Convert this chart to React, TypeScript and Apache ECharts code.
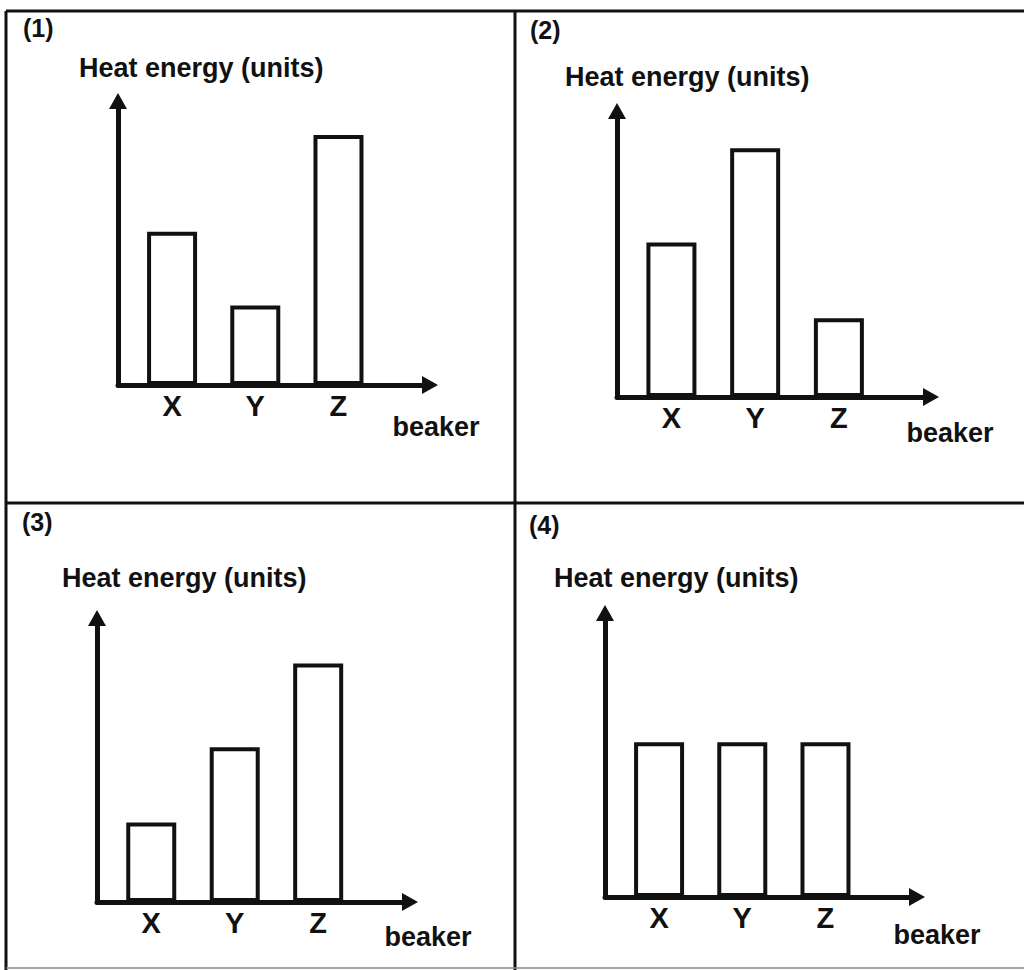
import React, { useEffect, useRef } from "react";
import * as echarts from "echarts";

const beakers = ["X", "Y", "Z"];
const panelLabels = ["(1)", "(2)", "(3)", "(4)"];
const yTitle = "Heat energy (units)";
const xTitle = "beaker";
const heat1 = [5.4, 2.8, 8.8];
const heat2 = [5.4, 8.7, 2.75];
const heat3 = [2.8, 5.45, 8.4];
const heat4 = [5.45, 5.45, 5.45];
const allHeat = [heat1, heat2, heat3, heat4];

const grids = [
  { left: 118, top: 101, width: 312, height: 284 },
  { left: 617, top: 111, width: 314, height: 286 },
  { left: 97, top: 618, width: 313, height: 284 },
  { left: 605, top: 613, width: 312, height: 284 },
];
const titlePos = [
  [79, 68],
  [565, 77],
  [62, 578],
  [554, 578],
];
const labelPos = [
  [23, 28],
  [530, 30],
  [22, 522],
  [529, 525],
];
const beakerPos = [
  [436, 427],
  [950, 433],
  [428, 937],
  [937, 935],
];

const FONT = "'Liberation Sans', Arial, sans-serif";
const INK = "#111";

export default function App() {
  const ref = useRef<HTMLDivElement>(null);
  useEffect(() => {
    if (!ref.current) return;
    const chart = echarts.init(ref.current, null, { renderer: "svg" });
    const xAxes = grids.map((_, i) => ({
      type: "value",
      gridIndex: i,
      min: 0.35,
      max: 4.1,
      splitLine: { show: false },
      axisTick: { show: false },
      axisLine: {
        show: true,
        lineStyle: { color: INK, width: 5 },
        symbol: ["none", "triangle"],
        symbolSize: [18, 16],
      },
      axisLabel: {
        show: true,
        customValues: [1, 2, 3],
        formatter: (v: number) => {
          const name = beakers[Math.round(v) - 1];
          return name ? `{b|${name}}` : "";
        },
        color: INK,
        fontFamily: FONT,
        fontWeight: "bold",
        fontSize: 29,
        margin: 6,
        rich: {
          b: {
            fontFamily: FONT,
            fontWeight: "bold",
            fontSize: 29,
            color: INK,
          },
        },
      },
    }));
    const yAxes = grids.map((_, i) => ({
      type: "value",
      gridIndex: i,
      min: 0,
      max: 10,
      splitLine: { show: false },
      axisTick: { show: false },
      axisLabel: { show: false },
      axisLine: {
        show: true,
        lineStyle: { color: INK, width: 5 },
        symbol: ["none", "triangle"],
        symbolSize: [18, 16],
      },
    }));
    const series = allHeat.map((vals, i) => ({
      type: "bar",
      xAxisIndex: i,
      yAxisIndex: i,
      barWidth: 50,
      data: vals.map((v, j) => [j + 1, v]),
      itemStyle: { color: "#fff", borderColor: INK, borderWidth: 4 },
      z: 1,
    }));
    const texts: any[] = [];
    for (let i = 0; i < 4; i++) {
      texts.push({
        type: "text",
        x: titlePos[i][0],
        y: titlePos[i][1],
        style: {
          text: yTitle,
          fill: INK,
          font: `bold 27px ${FONT}`,
          textVerticalAlign: "middle",
          textAlign: "left",
        },
      });
      texts.push({
        type: "text",
        x: labelPos[i][0],
        y: labelPos[i][1],
        style: {
          text: panelLabels[i],
          fill: INK,
          font: `bold 25px ${FONT}`,
          textVerticalAlign: "middle",
          textAlign: "left",
        },
      });
      texts.push({
        type: "text",
        x: beakerPos[i][0],
        y: beakerPos[i][1],
        style: {
          text: xTitle,
          fill: INK,
          font: `bold 27px ${FONT}`,
          textVerticalAlign: "middle",
          textAlign: "center",
        },
      });
    }
    const border = { stroke: INK, lineWidth: 3 };
    const lines = [
      { type: "line", shape: { x1: 6, y1: 11, x2: 1024, y2: 11 }, style: border },
      { type: "line", shape: { x1: 6, y1: 11, x2: 6, y2: 970 }, style: border },
      { type: "line", shape: { x1: 515, y1: 11, x2: 515, y2: 970 }, style: border },
      { type: "line", shape: { x1: 6, y1: 503, x2: 1024, y2: 503 }, style: border },
      { type: "line", shape: { x1: 6, y1: 968, x2: 1024, y2: 968 }, style: { stroke: "#888", lineWidth: 1.5 } },
    ];
    chart.setOption({
      animation: false,
      backgroundColor: "#fff",
      grid: grids.map((g) => ({ ...g, containLabel: false })),
      xAxis: xAxes,
      yAxis: yAxes,
      series,
      graphic: { elements: [...lines, ...texts] },
    });
    return () => chart.dispose();
  }, []);
  return (
    <div
      ref={ref}
      style={{ position: "absolute", left: 0, top: 0, width: 1024, height: 970 }}
    />
  );
}
